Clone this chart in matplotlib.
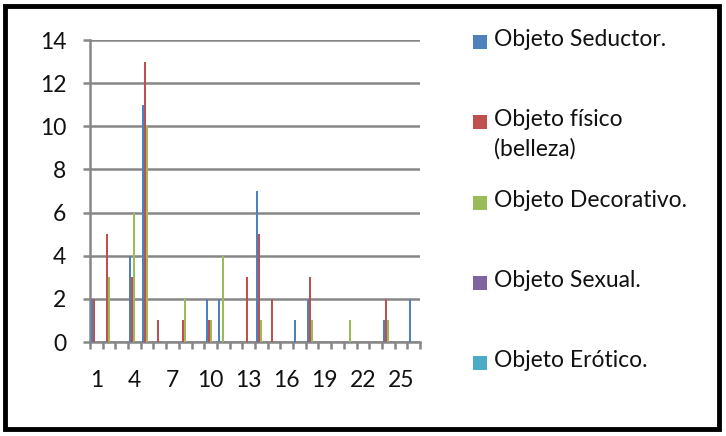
import numpy as np
import matplotlib
matplotlib.use("Agg")
import matplotlib.pyplot as plt
from matplotlib.patches import Rectangle

# Data (26 categories)
categories = list(range(1, 27))
series_names = ["Objeto Seductor.", "Objeto físico\n(belleza)", "Objeto Decorativo.",
                "Objeto Sexual.", "Objeto Erótico."]
seductor = [2, 0, 0, 4, 11, 0, 0, 0, 0, 2, 2, 0, 0, 7, 0, 0, 1, 2, 0, 0, 0, 0, 0, 1, 0, 2]
fisico = [2, 5, 0, 3, 13, 1, 0, 1, 0, 1, 0, 0, 3, 5, 2, 0, 0, 3, 0, 0, 0, 0, 0, 2, 0, 0]
decorativo = [0, 3, 0, 6, 10, 0, 0, 2, 0, 1, 4, 0, 0, 1, 0, 0, 0, 1, 0, 0, 1, 0, 0, 1, 0, 0]
sexual = [0] * 26
erotico = [0] * 26
colors = ["#4F81BD", "#C0504D", "#9BBB59", "#8064A2", "#4BACC6"]

FONT = "Lato"
FS = 16.5
GRID = "#878787"

fig = plt.figure(figsize=(7.26, 4.36), dpi=100)
fig.patch.set_facecolor("white")
fig.patches.append(Rectangle((0.007, 0.017), 0.983, 0.969, transform=fig.transFigure,
                             fill=False, edgecolor="black", linewidth=3.5))

ax = fig.add_axes([90 / 726, 94 / 436, 330 / 726, 302 / 436])
x = np.arange(len(categories))
bw = 0.16
all_series = [seductor, fisico, decorativo, sexual, erotico]
for k, (vals, c) in enumerate(zip(all_series, colors)):
    ax.bar(x + (k - 2) * bw, vals, width=bw, color=c, linewidth=0, zorder=3)

ax.set_xlim(-0.5, len(categories) - 0.5)
ax.set_ylim(0, 14)
ax.set_yticks(range(0, 15, 2))
ax.yaxis.grid(True, color=GRID, linewidth=1.8, zorder=0)
ax.set_axisbelow(True)

ax.set_xticks(x[::3])
ax.set_xticklabels([str(c) for c in categories[::3]])
ax.set_xticks(np.arange(-0.5, len(categories)), minor=True)
ax.tick_params(axis="x", which="major", length=0, pad=20)
ax.tick_params(axis="x", which="minor", length=5, width=1.8, color=GRID, direction="out")
ax.tick_params(axis="y", length=5, width=1.8, color=GRID, pad=12)
for lab in ax.get_xticklabels() + ax.get_yticklabels():
    lab.set_fontfamily(FONT)
    lab.set_fontsize(FS)
    lab.set_color("#111111")

for s in ["top", "right"]:
    ax.spines[s].set_visible(False)
for s in ["left", "bottom"]:
    ax.spines[s].set_color(GRID)
    ax.spines[s].set_linewidth(1.8)

# legend placed like the Excel legend
legend_y = [42, 122, 203, 283, 363]
for name, c, yy in zip(series_names, colors, legend_y):
    fig.patches.append(Rectangle((473 / 726, 1 - (yy + 7) / 436), 14 / 726, 14 / 436,
                                 transform=fig.transFigure, facecolor=c, edgecolor="none"))
    fig.text(494 / 726, 1 - (yy - 13) / 436, name, fontfamily=FONT, fontsize=FS,
             va="top", ha="left", color="#111111", linespacing=1.45)

fig.savefig("out.png", dpi=100)
